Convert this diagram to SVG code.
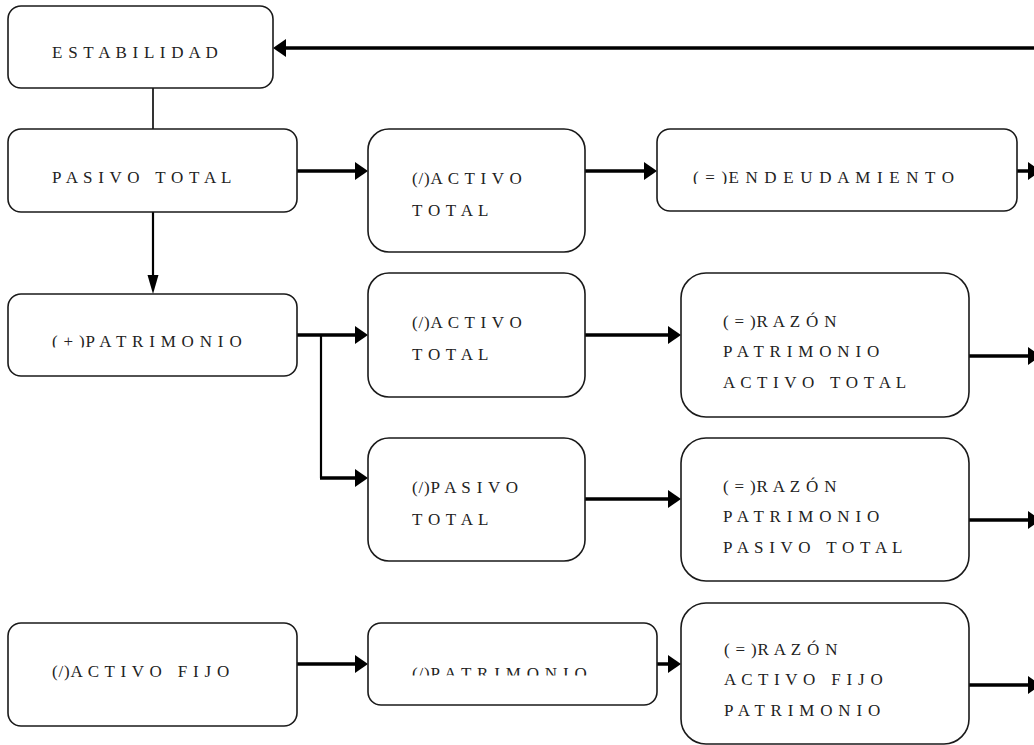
<svg xmlns="http://www.w3.org/2000/svg" width="1034" height="745" viewBox="0 0 1034 745" xml:space="preserve">
  <style>
    .box { fill: #ffffff; stroke: #1a1a1a; stroke-width: 1.6; }
    .lbl { font-family: "Liberation Serif", "Times New Roman", serif; font-size: 17px; fill: #222222; letter-spacing: 0.8px; white-space: pre; }
    .wire { fill: none; stroke: #000000; stroke-linecap: butt; }
    .thick { stroke-width: 3.5; }
    .thin { stroke-width: 1.6; }
    .mid { stroke-width: 2.2; }
  </style>
  <defs>
    <!-- heavy arrowhead: refX=0 so the head sits ahead of the line end -->
    <marker id="head" markerUnits="userSpaceOnUse" markerWidth="14" markerHeight="18" refX="0" refY="9" orient="auto" overflow="visible">
      <path d="M0,0 L13,9 L0,18 Z" fill="#000000"/>
    </marker>
    <!-- slender arrowhead used on the vertical link -->
    <marker id="headThin" markerUnits="userSpaceOnUse" markerWidth="19" markerHeight="12" refX="0" refY="5.5" orient="auto" overflow="visible">
      <path d="M0,0 L19,5.5 L0,11 Z" fill="#000000"/>
    </marker>
    <clipPath id="cutEnd"><rect x="657" y="129" width="360" height="55"/></clipPath>
    <clipPath id="cutPat"><rect x="8" y="294" width="289" height="53.5"/></clipPath>
    <clipPath id="cutPat2"><rect x="368" y="623" width="289" height="52.5"/></clipPath>
  </defs>

  <!-- connectors -->
  <g id="connectors">
    <path class="wire thick" d="M1034,48 L286,48" marker-end="url(#head)"/>
    <path class="wire thin" d="M153,88 L153,129"/>
    <path class="wire mid" d="M153,212 L153,275" marker-end="url(#headThin)"/>
    <path class="wire thick" d="M297,171 L355,171" marker-end="url(#head)"/>
    <path class="wire thick" d="M585,171 L644,171" marker-end="url(#head)"/>
    <path class="wire thick" d="M1017,171 L1028,171" marker-end="url(#head)"/>
    <path class="wire thick" d="M297,335 L355,335" marker-end="url(#head)"/>
    <path class="wire mid" d="M321,335 L321,478"/>
    <path class="wire thick" d="M320,478 L355,478" marker-end="url(#head)"/>
    <path class="wire thick" d="M585,335 L668,335" marker-end="url(#head)"/>
    <path class="wire thick" d="M969,356 L1028,356" marker-end="url(#head)"/>
    <path class="wire thick" d="M585,499 L668,499" marker-end="url(#head)"/>
    <path class="wire thick" d="M969,520 L1028,520" marker-end="url(#head)"/>
    <path class="wire thick" d="M297,664 L355,664" marker-end="url(#head)"/>
    <path class="wire thick" d="M657,664 L668,664" marker-end="url(#head)"/>
    <path class="wire thick" d="M969,685 L1028,685" marker-end="url(#head)"/>
  </g>

  <g id="estabilidad">
    <rect class="box" x="8" y="6" width="265" height="82" rx="13"/>
    <text class="lbl" x="52" y="58">E S T A B I L I D A D</text>
  </g>

  <g id="pasivo-total">
    <rect class="box" x="8" y="129" width="289" height="83" rx="13"/>
    <text class="lbl" x="52" y="183">P A S I V O   T O T A L</text>
  </g>

  <g id="div-activo-total-1">
    <rect class="box" x="368" y="129" width="217" height="123" rx="21"/>
    <text class="lbl" x="412" y="184">(/)A C T I V O</text>
    <text class="lbl" x="412" y="216">T O T A L</text>
  </g>

  <g id="endeudamiento">
    <rect class="box" x="657" y="129" width="360" height="82" rx="13"/>
    <text class="lbl" x="693" y="183" clip-path="url(#cutEnd)" style="letter-spacing:1.2px">( = )E N D E U D A M I E N T O</text>
  </g>

  <g id="patrimonio">
    <rect class="box" x="8" y="294" width="289" height="82" rx="13"/>
    <text class="lbl" x="52" y="347" clip-path="url(#cutPat)">( + )P A T R I M O N I O</text>
  </g>

  <g id="div-activo-total-2">
    <rect class="box" x="368" y="273" width="217" height="124" rx="21"/>
    <text class="lbl" x="412" y="328">(/)A C T I V O</text>
    <text class="lbl" x="412" y="360">T O T A L</text>
  </g>

  <g id="razon-patrimonio-activo">
    <rect class="box" x="681" y="273" width="288" height="144" rx="25"/>
    <text class="lbl" x="723" y="327">( = )R A Z Ó N</text>
    <text class="lbl" x="723" y="357">P A T R I M O N I O</text>
    <text class="lbl" x="723" y="388">A C T I V O   T O T A L</text>
  </g>

  <g id="div-pasivo-total">
    <rect class="box" x="368" y="438" width="217" height="123" rx="21"/>
    <text class="lbl" x="412" y="493">(/)P A S I V O</text>
    <text class="lbl" x="412" y="525">T O T A L</text>
  </g>

  <g id="razon-patrimonio-pasivo">
    <rect class="box" x="681" y="438" width="288" height="143" rx="25"/>
    <text class="lbl" x="723" y="492">( = )R A Z Ó N</text>
    <text class="lbl" x="723" y="522">P A T R I M O N I O</text>
    <text class="lbl" x="723" y="553">P A S I V O   T O T A L</text>
  </g>

  <g id="activo-fijo">
    <rect class="box" x="8" y="623" width="289" height="103" rx="13"/>
    <text class="lbl" x="52" y="677">(/)A C T I V O   F I J O</text>
  </g>

  <g id="div-patrimonio">
    <rect class="box" x="368" y="623" width="289" height="82" rx="13"/>
    <text class="lbl" x="412" y="679" clip-path="url(#cutPat2)">(/)P A T R I M O N I O</text>
  </g>

  <g id="razon-activo-fijo-patrimonio">
    <rect class="box" x="681" y="603" width="288" height="141" rx="25"/>
    <text class="lbl" x="724" y="655">( = )R A Z Ó N</text>
    <text class="lbl" x="724" y="685">A C T I V O   F I J O</text>
    <text class="lbl" x="724" y="716">P A T R I M O N I O</text>
  </g>
</svg>
